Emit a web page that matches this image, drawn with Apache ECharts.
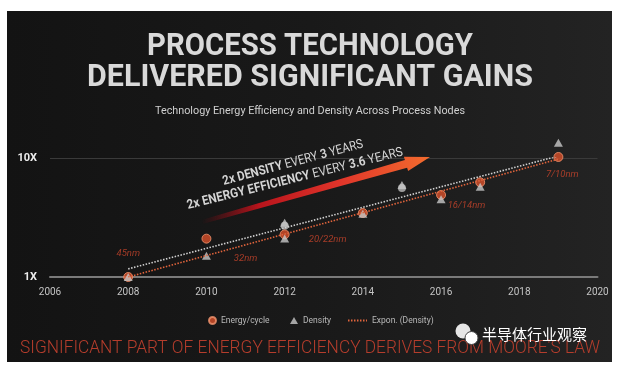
<!DOCTYPE html>
<html><head><meta charset="utf-8">
<script src="https://cdn.jsdelivr.net/npm/echarts@6/dist/echarts.min.js"></script>
<style>
html,body{margin:0;padding:0;background:#fff;}
#wrap{position:relative;width:619px;height:375px;overflow:hidden;background:#fff;}
#panel{position:absolute;left:7px;top:11px;width:605px;height:351px;background:linear-gradient(90deg,#131313 0%,#191919 50%,#232323 100%);}
#chart{position:absolute;left:0;top:0;width:619px;height:375px;}
</style></head><body>
<div id="wrap"><div id="panel"></div><div id="chart"></div></div>
<script>
// ---- data ----
const xTicks = [2006, 2008, 2010, 2012, 2014, 2016, 2018, 2020];
const yTickLabels = {1: '1X', 10: '10X'};
const energyYears = [2008, 2010, 2012, 2014, 2016, 2017, 2019];
const energyValues = [1.0, 2.1, 2.28, 3.45, 4.89, 6.25, 10.2];
const otherYears = [2012, 2015];
const otherValues = [2.7, 5.6];
const densityYears = [2008, 2010, 2012, 2012, 2014, 2015, 2016, 2017, 2019];
const densityValues = [1.0, 1.51, 2.85, 2.11, 3.4, 5.93, 4.5, 5.74, 13.4];
const trendYears = [2008, 2019];
const trendDensity = [1.0, 9.8];
const trendEnergy = [1.17, 10.4];
const nodeNames = ['45nm', '32nm', '20/22nm', '16/14nm', '7/10nm'];
const nodeYears = [2008.0, 2011.0, 2013.1, 2016.65, 2019.1];
const nodeValues = [1.56, 1.44, 2.05, 3.95, 7.3];

const FONT = 'Roboto';
const zip = (xs, ys) => xs.map((x, i) => [x, ys[i]]);
const mctx = document.createElement('canvas').getContext('2d');
function measure(text, font) { mctx.font = font; return mctx.measureText(text).width; }
function fitText(text, font, width, x, y, fill, extra) {
  const s = width / measure(text, font);
  return Object.assign({type: 'text', x: x, y: y, scaleX: s, silent: true,
    style: {text: text, font: font, align: 'center', verticalAlign: 'middle', fill: fill}}, extra || {});
}
function fitRich(segs, size, width, x, y, rot) {
  const fb = 'bold ' + size + 'px ' + FONT, fl = size + 'px ' + FONT;
  let w = 0;
  segs.forEach((sg, i) => { w += measure(sg[0], sg[1] ? fb : fl); if (i < segs.length - 1) w += measure(' ', fl); });
  const text = segs.map(sg => '{' + (sg[1] ? 'b' : 'l') + '|' + sg[0] + '}').join(' ');
  return {type: 'text', x: x, y: y, rotation: rot, scaleX: width / w, silent: true, z: 2,
    style: {text: text, align: 'center', verticalAlign: 'middle', fontSize: size, fontFamily: FONT, fill: '#d4d4d4',
      rich: {b: {fontFamily: FONT, fontSize: size, fontWeight: 'bold', color: '#ffffff'},
             l: {fontFamily: FONT, fontSize: size, color: '#cfcfcf'}}}};
}

const chart = echarts.init(document.getElementById('chart'), null, {renderer: 'canvas'});
const option = {
  backgroundColor: 'transparent',
  animation: false,
  grid: {left: 50, right: 21.5, top: 158, bottom: 98},
  xAxis: {
    type: 'value', min: xTicks[0], max: xTicks[xTicks.length - 1], interval: 2,
    axisLine: {show: true, lineStyle: {color: '#7a7a7a', width: 2}},
    axisTick: {show: false},
    splitLine: {show: false},
    axisLabel: {color: '#c4c4c4', fontSize: 10, fontFamily: FONT, margin: 10, formatter: v => String(v)}
  },
  yAxis: {
    type: 'log', logBase: 10, min: 1, max: 10,
    axisLine: {show: false}, axisTick: {show: false},
    splitLine: {show: true, lineStyle: {color: '#3a3a3a', width: 1}},
    axisLabel: {color: '#ececec', fontSize: 11, fontWeight: 'bold', fontFamily: FONT, margin: 13,
      formatter: v => yTickLabels[Math.round(v)] || ''}
  },
  legend: [
    {data: ['Energy/cycle'], left: 203, top: 311, itemWidth: 7, itemHeight: 7,
      textStyle: {color: '#b8b8b8', fontSize: 8.5, fontFamily: FONT}},
    {data: ['Density'], left: 285, top: 311, itemWidth: 8, itemHeight: 7,
      textStyle: {color: '#b8b8b8', fontSize: 8.5, fontFamily: FONT}},
    {data: ['Expon. (Density)'], left: 342, top: 311, itemWidth: 19, itemHeight: 7,
      textStyle: {color: '#b8b8b8', fontSize: 8.5, fontFamily: FONT}}
  ],
  series: [
    {name: 'Expon. (Energy)', type: 'line', symbol: 'none', silent: true,
      data: zip(trendYears, trendEnergy),
      lineStyle: {color: '#d0d0d0', width: 1.6, type: [1.5, 1.5]}},
    {name: 'Expon. (Density)', type: 'line', symbol: 'none', silent: true,
      data: zip(trendYears, trendDensity),
      itemStyle: {color: 'rgba(0,0,0,0)'},
      lineStyle: {color: '#e0643c', width: 1.6, type: [1.5, 1.5]}},
    {name: 'Other', type: 'scatter', symbol: 'circle', symbolSize: 8, clip: false, silent: true,
      data: zip(otherYears, otherValues),
      itemStyle: {color: '#bdbdbd'}},
    {name: 'Energy/cycle', type: 'scatter', symbol: 'circle', symbolSize: 9, clip: false, silent: true,
      data: zip(energyYears, energyValues),
      itemStyle: {color: '#d9502a', borderColor: '#f39670', borderWidth: 1}},
    {name: 'Density', type: 'scatter', symbol: 'triangle', symbolSize: [9, 8], clip: false, silent: true,
      data: zip(densityYears, densityValues),
      itemStyle: {color: '#c8c8c8'}},
    {name: 'Nodes', type: 'scatter', symbolSize: 1, clip: false, silent: true,
      data: nodeNames.map((n, i) => ({name: n, value: [nodeYears[i], nodeValues[i]]})),
      itemStyle: {color: 'rgba(0,0,0,0)'},
      label: {show: true, position: 'inside', formatter: p => p.name,
        color: '#c8452c', fontSize: 9.5, fontStyle: 'italic', fontFamily: FONT}}
  ],
  graphic: [
    // titles
    fitText('PROCESS TECHNOLOGY', 'bold 32px ' + FONT, 326, 310, 46.5, '#d9d9d9'),
    fitText('DELIVERED SIGNIFICANT GAINS', 'bold 32px ' + FONT, 446, 310, 77.5, '#d9d9d9'),
    fitText('Technology Energy Efficiency and Density Across Process Nodes', '11px ' + FONT, 310, 310, 111.5, '#cfcfcf'),
    // arrow
    {type: 'polygon', silent: true, z: 1,
      shape: {points: [[201.5, 220.1], [404.9, 160.0], [403.9, 156.7], [430, 157], [408.1, 171.1], [407.1, 167.8], [202.6, 223.9]]},
      style: {fill: {type: 'linear', x: 0, y: 0, x2: 1, y2: 0, colorStops: [
        {offset: 0, color: 'rgba(150,10,20,0)'}, {offset: 0.25, color: '#b8141c'}, {offset: 0.6, color: '#e0342a'}, {offset: 1, color: '#f36c2e'}]}}},
    fitRich([['2x DENSITY', true], ['EVERY', false], ['3', true], ['YEARS', false]], 13, 145, 293, 163, 0.262),
    fitRich([['2x ENERGY EFFICIENCY', true], ['EVERY', false], ['3.6', true], ['YEARS', false]], 13, 222, 295, 179, 0.245),
    // bottom statement
    fitText("SIGNIFICANT PART OF ENERGY EFFICIENCY DERIVES FROM MOORE'S LAW", '300 19px ' + FONT, 580, 310, 348.5, '#b53d2c'),
    // watermark
    {type: 'circle', silent: true, shape: {cx: 463, cy: 331, r: 7.5}, style: {fill: '#e6e6e6'}},
    {type: 'circle', silent: true, shape: {cx: 471.5, cy: 338, r: 6.5}, style: {fill: '#ffffff', stroke: '#444', lineWidth: 1}},
    {type: 'text', x: 482, y: 334, silent: true,
      style: {text: '半导体行业观察', font: '15px "Noto Sans CJK SC"', align: 'left', verticalAlign: 'middle', fill: '#ffffff'}}
  ]
};
chart.setOption(option);
</script>
</body></html>
